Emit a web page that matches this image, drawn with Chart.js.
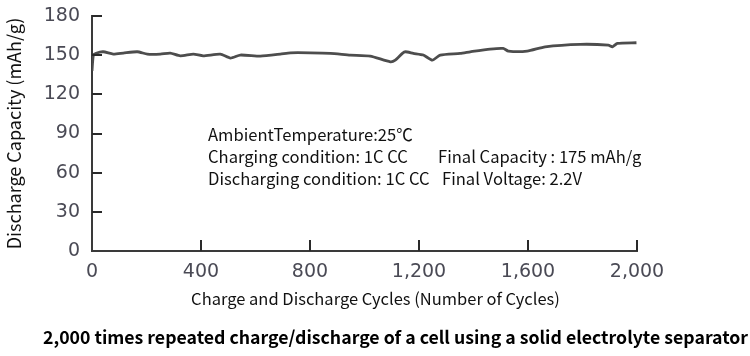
<!DOCTYPE html>
<html>
<head>
<meta charset="utf-8">
<script src="https://cdn.jsdelivr.net/npm/chart.js@4"></script>
<style>
  html, body { margin: 0; padding: 0; background: #fff; }
  #wrap { width: 750px; height: 356px; }
</style>
</head>
<body>
<div id="wrap"><canvas id="c" width="750" height="356"></canvas></div>
<script>
// ---- data ----
const cycles = [0, 5, 15, 41, 78, 115, 166, 203, 251, 287, 324, 372, 408, 471, 508, 544, 618, 691, 728, 801, 875, 948, 1021, 1095, 1113, 1139, 1150, 1179, 1216, 1249, 1278, 1351, 1388, 1461, 1509, 1528, 1597, 1663, 1792, 1895, 1910, 1928, 1998];
const capacity = [138, 150, 151.5, 152.6, 150.8, 151.6, 152.6, 150.8, 150.8, 151.6, 149.5, 150.8, 149.5, 150.8, 147.8, 150.1, 149.3, 150.8, 151.8, 151.8, 151.4, 150.1, 149.3, 144.9, 146.2, 151.4, 152.6, 151.4, 150.1, 146.2, 150.1, 151.4, 152.6, 154.7, 155.2, 153.1, 153.1, 156.4, 158.3, 157.7, 156.4, 159.0, 159.5];
const yTicks = [0, 30, 60, 90, 120, 150, 180];
const xTicks = [0, 400, 800, 1200, 1600, 2000];
const xTitle = 'Charge and Discharge Cycles (Number of Cycles)';
const yTitle = 'Discharge Capacity (mAh/g)';
const chartTitle = '2,000 times repeated charge/discharge of a cell using a solid electrolyte separator';
const noteLines = [
  ['AmbientTemperature:25\u2103', ''],
  ['Charging condition: 1C CC', 'Final Capacity : 175 mAh/g'],
  ['Discharging condition: 1C CC', 'Final Voltage: 2.2V']
];

const points = cycles.map((c, i) => ({ x: c, y: capacity[i] }));

const TEXT_FONT = '"Noto Sans CJK JP", "Noto Sans", sans-serif';
const TICK_FONT = '"DejaVu Sans", sans-serif';

const innerTicks = {
  id: 'innerTicks',
  afterDatasetsDraw(chart) {
    const { ctx, chartArea, scales } = chart;
    ctx.save();
    ctx.strokeStyle = '#2a2a2a';
    ctx.lineWidth = 2;
    ctx.beginPath();
    yTicks.forEach(v => {
      if (v === 0) return;
      const py = Math.round(scales.y.getPixelForValue(v));
      ctx.moveTo(chartArea.left, py);
      ctx.lineTo(chartArea.left + 10, py);
    });
    xTicks.forEach(v => {
      if (v === 0) return;
      const px = Math.round(scales.x.getPixelForValue(v));
      ctx.moveTo(px, chartArea.bottom);
      ctx.lineTo(px, chartArea.bottom - 11);
    });
    ctx.stroke();
    ctx.restore();
  }
};

const texts = {
  id: 'texts',
  afterDraw(chart) {
    const { ctx } = chart;
    ctx.save();
    ctx.fillStyle = '#111';
    ctx.font = '16.6px ' + TEXT_FONT;
    ctx.textBaseline = 'middle';
    ctx.textAlign = 'left';
    const rowsY = [135, 157, 179];
    const col2X = [0, 438, 442];
    noteLines.forEach((row, i) => {
      ctx.fillText(row[0], 208, rowsY[i]);
      if (row[1]) ctx.fillText(row[1], col2X[i], rowsY[i]);
    });
    // x-axis title
    ctx.textAlign = 'center';
    ctx.font = '16.5px ' + TEXT_FONT;
    ctx.fillText(xTitle, 375.5, 299);
    // chart title (below the axis title)
    ctx.fillStyle = '#000';
    ctx.font = 'bold 17.7px ' + TEXT_FONT;
    ctx.fillText(chartTitle, 395.5, 337);
    ctx.restore();
  }
};

new Chart(document.getElementById('c'), {
  type: 'line',
  data: {
    datasets: [{
      data: points,
      borderColor: '#4d4d4d',
      borderWidth: 2.8,
      pointRadius: 0,
      tension: 0.2,
      fill: false
    }]
  },
  options: {
    responsive: false,
    animation: false,
    devicePixelRatio: 1,
    layout: { padding: { left: 0, top: 16, right: 113, bottom: 28.6 } },
    plugins: {
      legend: { display: false },
      tooltip: { enabled: false },
      title: { display: false }
    },
    scales: {
      x: {
        type: 'linear',
        min: 0,
        max: 2000,
        afterFit(s) { s.height = 76.4; s.paddingLeft = 0; s.paddingRight = 0; },
        afterBuildTicks(s) { s.ticks = xTicks.map(v => ({ value: v })); },
        ticks: {
          callback: v => v.toLocaleString('en-US'),
          color: '#4a4a55',
          font: { family: TICK_FONT, size: 19, lineHeight: 1.2 },
          padding: 10,
          maxRotation: 0,
          autoSkip: false
        },
        grid: { display: false, drawTicks: false },
        border: { display: true, color: '#3a3a3a', width: 2 },
        title: { display: false }
      },
      y: {
        min: 0,
        max: 180,
        afterFit(s) { s.width = 92; s.paddingTop = 0; s.paddingBottom = 0; },
        afterBuildTicks(s) { s.ticks = yTicks.map(v => ({ value: v })); },
        ticks: {
          color: '#4a4a55',
          font: { family: TICK_FONT, size: 19, lineHeight: 1.2 },
          padding: 12
        },
        grid: { display: false, drawTicks: false },
        border: { display: true, color: '#3a3a3a', width: 2 },
        title: {
          display: true,
          text: yTitle,
          color: '#111',
          font: { family: TEXT_FONT, size: 18, lineHeight: 1.2 },
          padding: { top: 3, bottom: 0 }
        }
      }
    }
  },
  plugins: [innerTicks, texts]
});
</script>
</body>
</html>
